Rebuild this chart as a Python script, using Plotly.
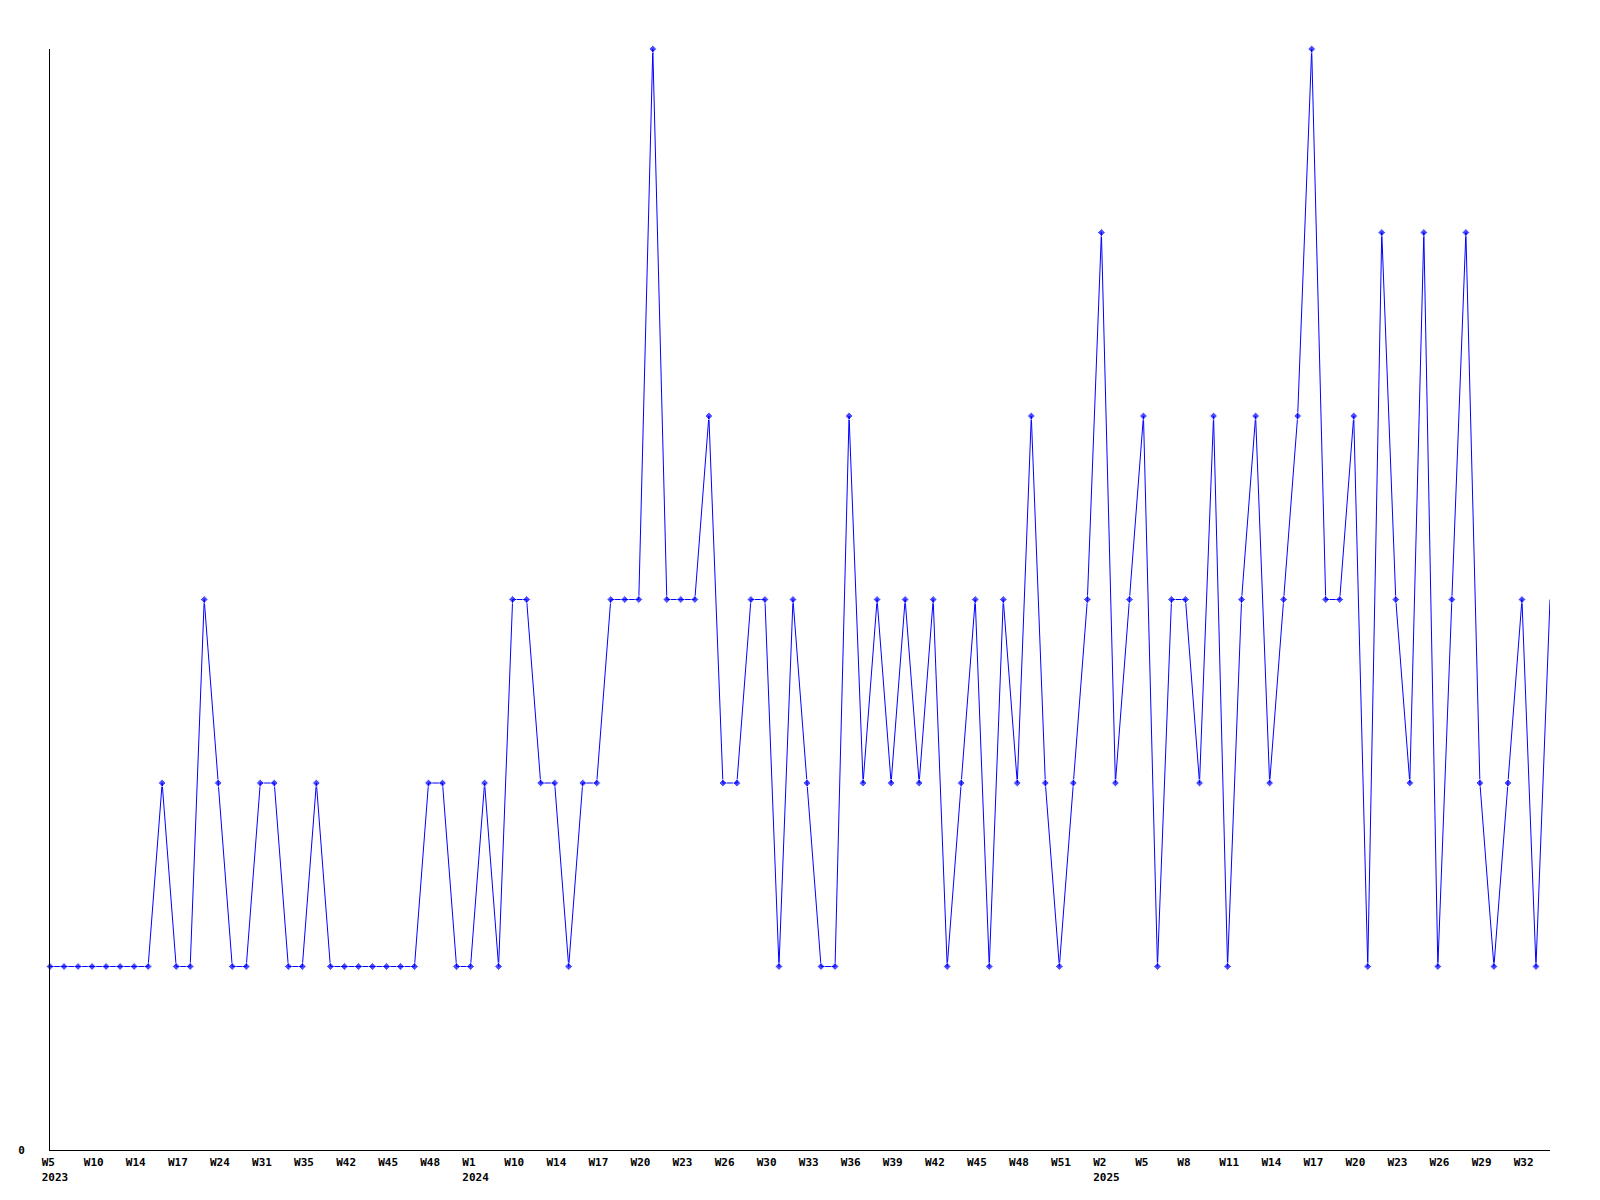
import plotly.graph_objects as go

# ISO weeks present in the data, per year
weeks_2023 = [5, 6, 8, 10, 11, 13, 14, 15, 16, 17, 19, 22, 24, 26, 29, 31, 32, 34, 35, 37,
              40, 42, 43, 44, 45, 46, 47, 48, 50, 52]
weeks_2024 = [1, 4, 7, 10, 11, 12, 14, 15, 16, 17, 18, 19, 20, 21, 22, 23, 24, 25, 26, 28,
              29, 30, 31, 32, 33, 34, 35, 36, 37, 38, 39, 40, 41, 42, 43, 44, 45, 46, 47, 48,
              49, 50, 51, 52]
weeks_2025 = [1, 2, 3, 4, 5, 6, 7, 8, 9, 10, 11, 12, 13, 14, 15, 16, 17, 18, 19, 20,
              21, 22, 23, 24, 25, 26, 27, 28, 29, 30, 31, 32, 33, 34]

values = [1, 1, 1, 1, 1, 1, 1, 1, 2, 1,
          1, 3, 2, 1, 1, 2, 2, 1, 1, 2,
          1, 1, 1, 1, 1, 1, 1, 2, 2, 1,
          1, 2, 1, 3, 3, 2, 2, 1, 2, 2,
          3, 3, 3, 6, 3, 3, 3, 4, 2, 2,
          3, 3, 1, 3, 2, 1, 1, 4, 2, 3,
          2, 3, 2, 3, 1, 2, 3, 1, 3, 2,
          4, 2, 1, 2, 3, 5, 2, 3, 4, 1,
          3, 3, 2, 4, 1, 3, 4, 2, 3, 4,
          6, 3, 3, 4, 1, 5, 3, 2, 5, 1,
          3, 5, 2, 1, 2, 3, 1, 3]

y_tick_values = [0]
y_tick_labels = ["0"]

year_weeks = [(2023, w) for w in weeks_2023] + [(2024, w) for w in weeks_2024] + \
             [(2025, w) for w in weeks_2025]
categories = [f"{y}-W{w:02d}" for y, w in year_weeks]

NB = "\u00a0"
tickvals, ticktext = [], []
prev_year = None
for i in range(0, len(categories), 3):
    y, w = year_weeks[i]
    lab = f"W{w}".ljust(4, NB)
    if y != prev_year:
        lab = lab + "<br>" + str(y)
    prev_year = y
    tickvals.append(categories[i])
    ticktext.append(lab)

sizes = [6] * (len(values) - 1) + [0]

fig = go.Figure()
fig.add_trace(go.Scatter(
    x=categories, y=values, mode="lines+markers",
    line=dict(color="#0000ff", width=1),
    marker=dict(symbol="diamond", size=sizes, color="#0000ff"),
    cliponaxis=False,
    showlegend=False, hoverinfo="x+y",
))

font = dict(family="DejaVu Sans Mono", size=11, color="black", weight="bold")

fig.update_layout(
    width=1592, height=1192,
    margin=dict(l=42, r=50, t=41, b=50, autoexpand=False),
    paper_bgcolor="white", plot_bgcolor="white",
    font=font,
    xaxis=dict(
        type="category", range=[0, len(categories) - 1],
        showgrid=False, zeroline=False, showline=True, linecolor="black", linewidth=1,
        ticks="", tickvals=tickvals, ticktext=ticktext, tickangle=0,
        ticklabelshift=5, ticklabelstandoff=2, tickfont=font,
    ),
    yaxis=dict(
        range=[0, 6], showgrid=False, zeroline=False, showline=True,
        linecolor="black", linewidth=1, ticks="",
        tickvals=y_tick_values, ticktext=y_tick_labels,
        ticklabelstandoff=22, tickfont=font,
    ),
)

fig.write_html("out.html")
